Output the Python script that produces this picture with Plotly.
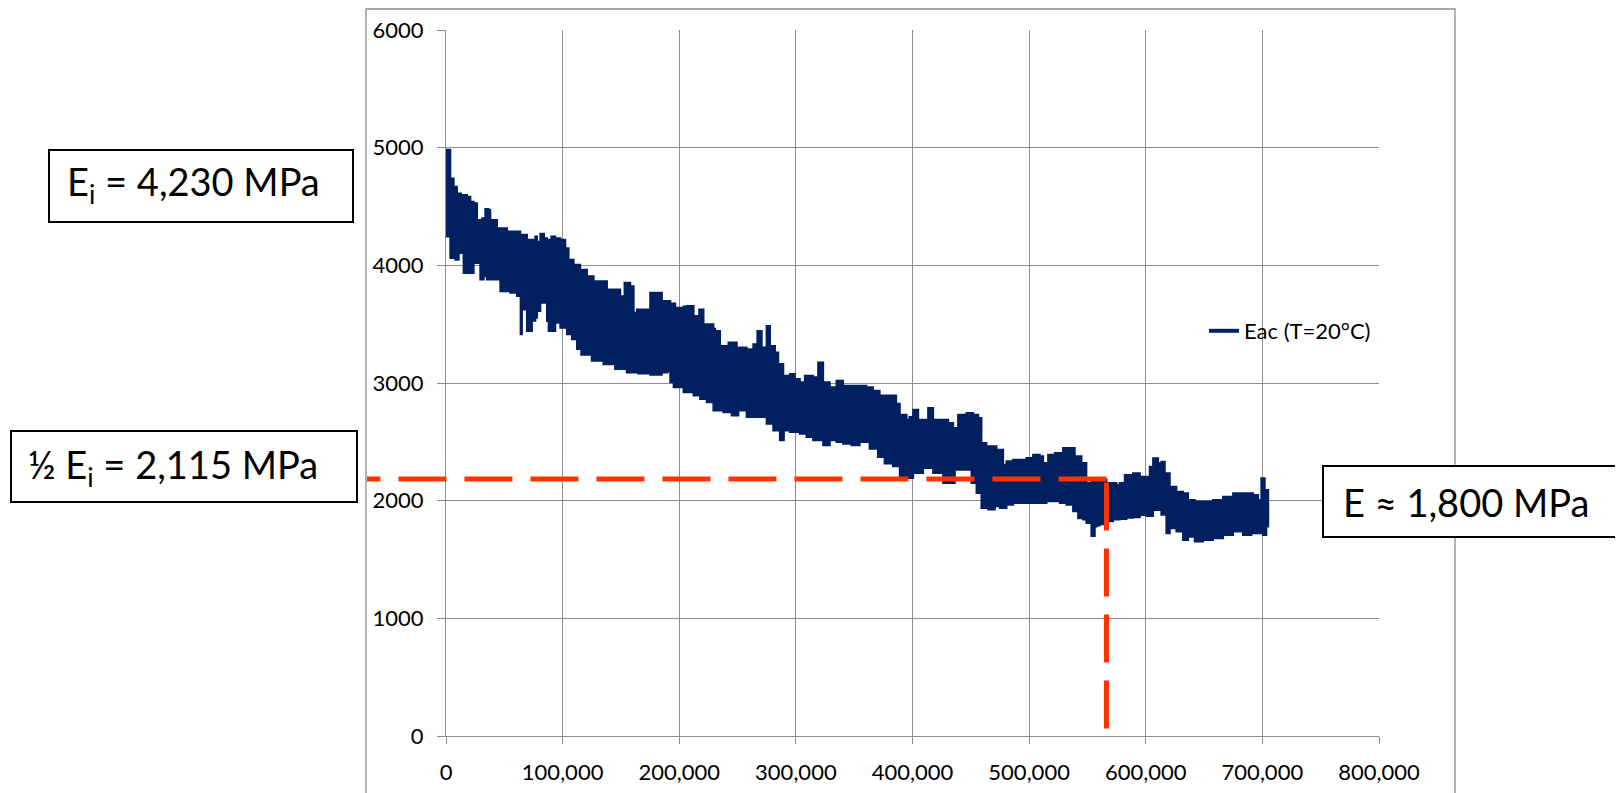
import plotly.graph_objects as go

# ---------------- data ----------------
upper_cycles = [0, 3700, 6600, 9400, 12900, 18000, 20900, 23700, 26600, 31000, 33700, 36500, 38000, 43700,
                52300, 56600, 63700, 69400, 76600, 78000, 80900, 84000, 86600, 90300, 93700, 98000, 102300,
                105100, 109400, 115100, 120900, 126600, 132300, 138000, 143700, 149400, 153100, 158000, 160900,
                163700, 169400, 175100, 180900, 185100, 192300, 196600, 199400, 203700, 206600, 212300, 217100,
                220800, 229300, 230800, 235000, 242200, 249300, 257800, 263500, 267000, 270700, 274900, 277800,
                282100, 284900, 289200, 294900, 299100, 303400, 307700, 314800, 319100, 323400, 329100, 334800,
                340500, 354700, 360400, 366100, 371800, 380300, 386000, 389100, 394900, 397400, 400600, 404900,
                409100, 413400, 417700, 423400, 430600, 434900, 439100, 446300, 452000, 456300, 459100, 463400,
                467700, 472000, 477700, 480600, 486300, 492000, 497700, 503400, 509100, 512000, 516300, 522000,
                529100, 534900, 539100, 544900, 549100, 553400, 560600, 566300, 574900, 577700, 582000, 589100,
                594900, 600600, 603400, 606300, 610600, 613400, 616300, 620600, 626300, 632000, 636300, 642000,
                649100, 657700, 666300, 674900, 683400, 692000, 696300, 699100, 702000, 705000]
upper_mpa = [4983, 4738, 4668, 4611, 4597, 4583, 4541, 4527, 4386, 4400, 4479, 4470, 4386, 4315,
             4287, 4287, 4259, 4217, 4245, 4200, 4268, 4230, 4217, 4245, 4230, 4217, 4146,
             4048, 4006, 3963, 3907, 3865, 3865, 3794, 3794, 3738, 3851, 3823, 3597,
             3625, 3625, 3766, 3766, 3696, 3675, 3640, 3639, 3650, 3654, 3569, 3625,
             3499, 3460, 3442, 3315, 3344, 3301, 3287, 3330, 3442, 3301, 3485, 3315,
             3259, 3161, 3062, 3076, 3034, 3006, 3062, 3048, 3175, 3006, 2963, 3020,
             2977, 2977, 2963, 2935, 2893, 2893, 2823, 2731, 2688, 2710, 2773, 2688,
             2688, 2788, 2688, 2688, 2660, 2618, 2731, 2745, 2731, 2703, 2490, 2462,
             2462, 2433, 2306, 2334, 2348, 2348, 2363, 2391, 2377, 2320, 2391, 2405,
             2448, 2448, 2377, 2320, 2150, 2176, 2180, 2150, 2133, 2150, 2218, 2232,
             2204, 2204, 2289, 2360, 2317, 2330, 2232, 2119, 2076, 2062, 2006, 1992,
             1992, 2006, 2034, 2062, 2062, 2048, 2006, 2190, 2091, 2050]

lower_cycles = [0, 3700, 8000, 10900, 15100, 20900, 23700, 29400, 32300, 35100, 40900, 46600, 55100, 60900,
                64000, 65100, 66500, 69400, 73700, 76600, 78000, 80900, 86600, 88000, 93700, 98000, 103700,
                108000, 112300, 116000, 125000, 135000, 145000, 155000, 165000, 175000, 185000, 190000, 192300,
                195200, 203700, 212300, 217900, 223600, 229300, 237900, 245000, 250700, 257800, 263500, 274900,
                280600, 286300, 289700, 294900, 303400, 309100, 314800, 323400, 329100, 334800, 340500, 347600,
                354700, 363200, 370400, 376100, 383200, 389100, 394900, 400600, 409100, 417700, 426300, 436300,
                443400, 450600, 454900, 459100, 464900, 470600, 474900, 480600, 486300, 494900, 503400, 514900,
                526300, 532000, 537700, 542000, 546300, 549100, 553400, 556300, 558000, 560600, 566300, 572000,
                577700, 583400, 589100, 594900, 600600, 606300, 613400, 617700, 620600, 626300, 632000, 636300,
                642000, 649100, 657700, 666300, 674900, 683400, 690600, 694900, 700600, 703400, 705000]
lower_mpa = [4301, 4245, 4062, 4048, 4104, 3935, 3935, 4020, 3879, 3907, 3879, 3879, 3780, 3766,
             3740, 3414, 3700, 3625, 3442, 3530, 3555, 3611, 3682, 3527, 3442, 3513, 3470,
             3414, 3372, 3290, 3240, 3190, 3160, 3120, 3090, 3080, 3070, 3090, 3100,
             3006, 2963, 2921, 2893, 2865, 2837, 2766, 2752, 2724, 2766, 2710, 2710,
             2654, 2597, 2513, 2597, 2583, 2569, 2541, 2513, 2470, 2513, 2499, 2484,
             2470, 2499, 2442, 2372, 2315, 2292, 2207, 2193, 2235, 2278, 2235, 2150,
             2263, 2263, 2150, 2065, 1938, 1924, 1952, 1938, 1966, 1980, 1980, 1980,
             1994, 1980, 1966, 1909, 1850, 1840, 1810, 1700, 1780, 1790, 1800, 1825,
             1840, 1845, 1855, 1860, 1878, 1870, 1921, 1880, 1723, 1765, 1737, 1666,
             1694, 1652, 1666, 1680, 1708, 1737, 1708, 1723, 1723, 1708, 1780]

series_name = "Eac (T=20°C)"
half_ei_level = 2184          # red dashed horizontal level (as drawn)
half_ei_cycles = 566300       # red dashed vertical position
x_max = 800000
y_max = 6000
x_ticks = [0, 100000, 200000, 300000, 400000, 500000, 600000, 700000, 800000]
y_ticks = [0, 1000, 2000, 3000, 4000, 5000, 6000]
label_ei = "E<sub>i</sub> = 4,230 MPa"
label_half = "½ E<sub>i</sub> = 2,115 MPa"
label_e = "E ≈ 1,800 MPa"

# ---------------- layout geometry (page pixels) ----------------
OFF = 8                      # default body margin of the html page
PAGE_W, PAGE_H = 1623, 793
W, H = PAGE_W - OFF, PAGE_H - OFF
L, R, T, B = 446, 1379, 30, 736   # plot area in page pixels


def px(x):
    return (x - L) / (R - L)


def py(y):
    return (B - y) / (B - T)


NAVY = "#002060"
RED = "#FF3300"
GRID = "#8c8c8c"
FONT = "Lato"

fig = go.Figure()
fig.add_trace(go.Scatter(
    x=upper_cycles + lower_cycles[::-1],
    y=upper_mpa + lower_mpa[::-1],
    mode="lines", fill="toself", fillcolor=NAVY,
    line=dict(color=NAVY, width=2, shape="hv"),
    showlegend=False, hoverinfo="skip"))
fig.add_trace(go.Scatter(
    x=[None], y=[None], mode="lines", name=series_name,
    line=dict(color=NAVY, width=4)))

half_level_paper = half_ei_level / y_max
shapes = [
    # chart-area frame
    dict(type="rect", xref="paper", yref="paper", x0=px(366), x1=px(1455), y0=py(820), y1=py(9),
         line=dict(color=GRID, width=1.3), fillcolor="rgba(0,0,0,0)", layer="below"),
    # red dashed lines (drawn from the corner outwards)
    dict(type="line", xref="paper", yref="paper", x0=half_ei_cycles / x_max, x1=px(367),
         y0=half_level_paper, y1=half_level_paper, line=dict(color=RED, width=5, dash="48px,18px")),
    dict(type="line", xref="x", yref="y", x0=half_ei_cycles, x1=half_ei_cycles,
         y0=half_ei_level - 30, y1=30, line=dict(color=RED, width=5, dash="48px,18px")),
    # annotation boxes
    dict(type="rect", xref="paper", yref="paper", x0=px(49), x1=px(353), y0=py(222), y1=py(150),
         line=dict(color="black", width=2), fillcolor="white"),
    dict(type="rect", xref="paper", yref="paper", x0=px(11), x1=px(357), y0=py(502), y1=py(431),
         line=dict(color="black", width=2), fillcolor="white"),
    dict(type="rect", xref="paper", yref="paper", x0=px(1323), x1=px(1621), y0=py(537), y1=py(466),
         line=dict(color="black", width=2), fillcolor="white"),
]

annotations = [
    dict(text=label_ei, xref="paper", yref="paper", x=px(193), y=py(184), showarrow=False,
         xanchor="center", yanchor="middle", font=dict(family=FONT, size=38, color="black")),
    dict(text=label_half, xref="paper", yref="paper", x=px(173), y=py(467), showarrow=False,
         xanchor="center", yanchor="middle", font=dict(family=FONT, size=38, color="black")),
    dict(text=label_e, xref="paper", yref="paper", x=px(1466), y=py(502), showarrow=False,
         xanchor="center", yanchor="middle", font=dict(family=FONT, size=38, color="black")),
]

fig.update_layout(
    width=W, height=H, autosize=False,
    margin=dict(l=L - OFF, r=W - (R - OFF), t=T - OFF, b=H - (B - OFF), pad=0, autoexpand=False),
    paper_bgcolor="white", plot_bgcolor="white",
    font=dict(family=FONT, size=22, color="black"),
    shapes=shapes, annotations=annotations,
    showlegend=True,
    legend=dict(x=px(1204), y=py(331), xanchor="left", yanchor="middle",
                bgcolor="rgba(0,0,0,0)", font=dict(family=FONT, size=22, color="black")),
    xaxis=dict(range=[0, x_max], tickvals=x_ticks, tickformat=",d", automargin=False,
               showgrid=True, gridcolor=GRID, gridwidth=1,
               showline=True, linecolor=GRID, linewidth=1.3, zeroline=False,
               ticks="outside", ticklen=7, tickcolor=GRID, tickwidth=1.3,
               ticklabelstandoff=9, tickfont=dict(family=FONT, size=22, color="black")),
    yaxis=dict(range=[0, y_max], tickvals=y_ticks, tickformat="d", automargin=False,
               showgrid=True, gridcolor=GRID, gridwidth=1,
               showline=True, linecolor=GRID, linewidth=1.3, zeroline=False,
               ticks="outside", ticklen=8, tickcolor=GRID, tickwidth=1.3,
               ticklabelstandoff=9, tickfont=dict(family=FONT, size=22, color="black")),
)

fig.write_html("out.html")
